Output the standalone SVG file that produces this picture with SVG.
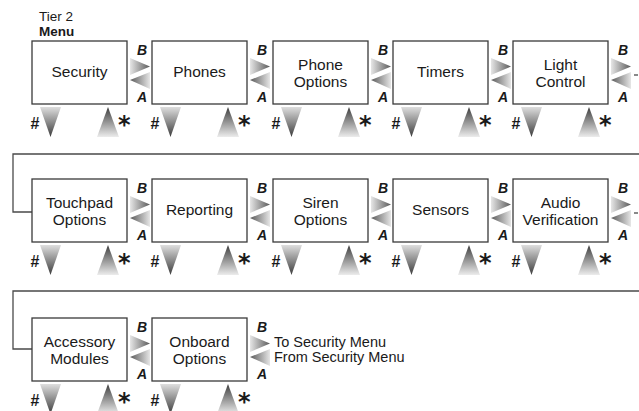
<svg xmlns="http://www.w3.org/2000/svg" width="639" height="411" viewBox="0 0 639 411">
<defs>
<linearGradient id="gR" x1="0" y1="0" x2="1" y2="0"><stop offset="0" stop-color="#e6e6e6"/><stop offset="1" stop-color="#5a5a5a"/></linearGradient>
<linearGradient id="gL" x1="1" y1="0" x2="0" y2="0"><stop offset="0" stop-color="#e6e6e6"/><stop offset="1" stop-color="#5a5a5a"/></linearGradient>
<linearGradient id="gD" x1="0" y1="0" x2="0" y2="1"><stop offset="0" stop-color="#dedede"/><stop offset="1" stop-color="#3c3c3c"/></linearGradient>
<linearGradient id="gU" x1="0" y1="1" x2="0" y2="0"><stop offset="0" stop-color="#ececec"/><stop offset="1" stop-color="#3c3c3c"/></linearGradient>
<g id="nav">
<polygon points="3,17 23,25.5 3,34" fill="url(#gR)"/>
<polygon points="23,31 3,39 23,48" fill="url(#gL)"/>
<text x="15" y="14" class="ba">B</text>
<text x="15" y="61" class="ba">A</text>
</g>
<g id="keys">
<polygon points="8,66 29,66 18.5,96" fill="url(#gD)"/>
<polygon points="65,96 76,66 87,96" fill="url(#gU)"/>
<text x="-1.5" y="87.5" class="hash">#</text>
<text x="86" y="92" class="star">*</text>
</g>
</defs>
<style>
.box{fill:#fff;stroke:#3a3a3a;stroke-width:1.3}
.lbl{font-family:"Liberation Sans",Arial,sans-serif;font-size:15.5px;fill:#1a1a1a;text-anchor:middle}
.ba{font-family:"Liberation Sans",Arial,sans-serif;font-size:14px;font-weight:bold;font-style:italic;fill:#1a1a1a;text-anchor:middle}
.hash{font-family:"Liberation Sans",Arial,sans-serif;font-size:16px;font-weight:bold;fill:#1a1a1a}
.star{font-family:"DejaVu Sans",sans-serif;font-size:24px;font-weight:bold;fill:#1a1a1a}
.hdr{font-family:"Liberation Sans",Arial,sans-serif;font-size:13.5px;fill:#1a1a1a}
.note{font-family:"Liberation Sans",Arial,sans-serif;font-size:14.5px;fill:#1a1a1a}
.conn{fill:none;stroke:#4a4a4a;stroke-width:1.3}
</style>
<text x="39" y="21" class="hdr">Tier 2</text>
<text x="39" y="35.5" class="hdr" font-weight="bold">Menu</text>

<g id="connectors">
<path class="conn" d="M639,154 H13 V212 H32"/>
<path class="conn" d="M639,291 H13 V349 H32"/>
<path class="conn" d="M634,75 H638"/>
<path class="conn" d="M634,213 H638"/>
</g>

<!-- Row 1 -->
<g id="security"><rect class="box" x="32" y="41" width="95" height="63"/><text class="lbl" x="79.5" y="77">Security</text><use href="#nav" x="127" y="41"/><use href="#keys" x="32" y="41"/></g>
<g id="phones"><rect class="box" x="152" y="41" width="95" height="63"/><text class="lbl" x="199.5" y="77">Phones</text><use href="#nav" x="247" y="41"/><use href="#keys" x="152" y="41"/></g>
<g id="phone-options"><rect class="box" x="273" y="41" width="95" height="63"/><text class="lbl" x="320.5" y="70">Phone</text><text class="lbl" x="320.5" y="87">Options</text><use href="#nav" x="368" y="41"/><use href="#keys" x="273" y="41"/></g>
<g id="timers"><rect class="box" x="393" y="41" width="95" height="63"/><text class="lbl" x="440.5" y="77">Timers</text><use href="#nav" x="488" y="41"/><use href="#keys" x="393" y="41"/></g>
<g id="light-control"><rect class="box" x="513" y="41" width="95" height="63"/><text class="lbl" x="560.5" y="70">Light</text><text class="lbl" x="560.5" y="87">Control</text><use href="#nav" x="608" y="41"/><use href="#keys" x="513" y="41"/></g>

<!-- Row 2 -->
<g id="touchpad-options"><rect class="box" x="32" y="179" width="95" height="63"/><text class="lbl" x="79.5" y="208">Touchpad</text><text class="lbl" x="79.5" y="225">Options</text><use href="#nav" x="127" y="179"/><use href="#keys" x="32" y="179"/></g>
<g id="reporting"><rect class="box" x="152" y="179" width="95" height="63"/><text class="lbl" x="199.5" y="215">Reporting</text><use href="#nav" x="247" y="179"/><use href="#keys" x="152" y="179"/></g>
<g id="siren-options"><rect class="box" x="273" y="179" width="95" height="63"/><text class="lbl" x="320.5" y="208">Siren</text><text class="lbl" x="320.5" y="225">Options</text><use href="#nav" x="368" y="179"/><use href="#keys" x="273" y="179"/></g>
<g id="sensors"><rect class="box" x="393" y="179" width="95" height="63"/><text class="lbl" x="440.5" y="215">Sensors</text><use href="#nav" x="488" y="179"/><use href="#keys" x="393" y="179"/></g>
<g id="audio-verification"><rect class="box" x="513" y="179" width="95" height="63"/><text class="lbl" x="560.5" y="208">Audio</text><text class="lbl" x="560.5" y="225">Verification</text><use href="#nav" x="608" y="179"/><use href="#keys" x="513" y="179"/></g>

<!-- Row 3 -->
<g id="accessory-modules"><rect class="box" x="32" y="318" width="95" height="63"/><text class="lbl" x="79.5" y="347">Accessory</text><text class="lbl" x="79.5" y="364">Modules</text><use href="#nav" x="127" y="318"/><use href="#keys" x="32" y="318"/></g>
<g id="onboard-options"><rect class="box" x="152" y="318" width="95" height="63"/><text class="lbl" x="199.5" y="347">Onboard</text><text class="lbl" x="199.5" y="364">Options</text><use href="#nav" x="247" y="318"/><use href="#keys" x="152" y="318"/></g>
<text class="note" x="274" y="347">To Security Menu</text>
<text class="note" x="274" y="362">From Security Menu</text>
</svg>
